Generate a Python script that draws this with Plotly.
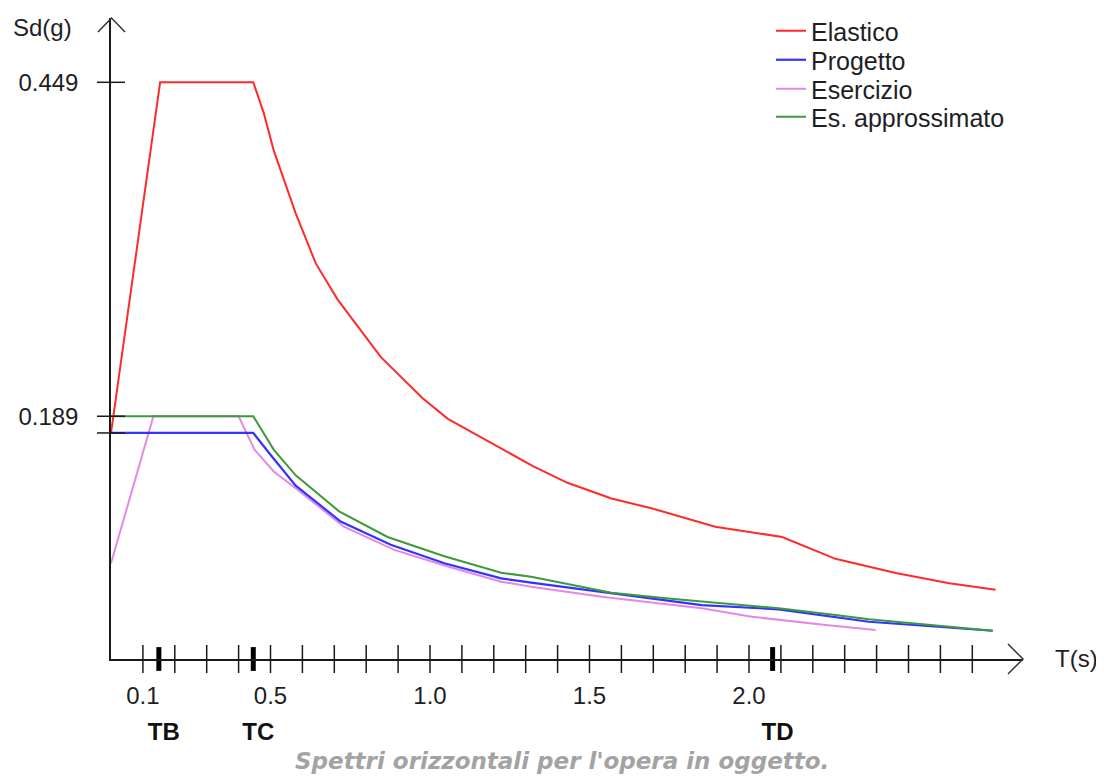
import plotly.graph_objects as go

# ---------------- data ----------------
T_el = [0, 0.154, 0.446, 0.479, 0.510, 0.531, 0.579, 0.642, 0.710, 0.846, 0.977,
        1.056, 1.223, 1.324, 1.433, 1.569, 1.700, 1.894, 2.104, 2.271, 2.460, 2.628, 2.773]
Sd_el = [0.176, 0.449, 0.449, 0.425, 0.396, 0.381, 0.347, 0.308, 0.280, 0.235, 0.203,
         0.187, 0.164, 0.150, 0.137, 0.125, 0.117, 0.103, 0.095, 0.078, 0.067, 0.059, 0.054]

T_pr = [0, 0.446, 0.500, 0.579, 0.720, 0.877, 1.045, 1.223, 1.317, 1.642, 1.852, 2.093, 2.376, 2.764]
Sd_pr = [0.176, 0.176, 0.159, 0.135, 0.107, 0.089, 0.0745, 0.0628, 0.0594, 0.0485, 0.042, 0.0387, 0.029, 0.022]

T_es = [0, 0.133, 0.400, 0.450, 0.510, 0.584, 0.730, 0.888, 1.056, 1.223, 1.317, 1.538, 1.852, 2.009, 2.240, 2.397]
Sd_es = [0.0745, 0.189, 0.189, 0.163, 0.146, 0.132, 0.103, 0.085, 0.072, 0.0602, 0.0563, 0.0485, 0.0395, 0.0329, 0.0265, 0.0226]

T_ap = [0, 0.446, 0.510, 0.579, 0.715, 0.867, 1.045, 1.223, 1.317, 1.569, 1.747, 2.093, 2.271, 2.376, 2.764]
Sd_ap = [0.189, 0.189, 0.163, 0.143, 0.115, 0.095, 0.080, 0.0672, 0.064, 0.0516, 0.0472, 0.0395, 0.0343, 0.031, 0.022]

x_minor_ticks = [0.1, 0.2, 0.3, 0.4, 0.5, 0.6, 0.7, 0.8, 0.9, 1.0, 1.1, 1.2, 1.3, 1.4,
                 1.5, 1.6, 1.7, 1.8, 1.9, 2.0, 2.1, 2.2, 2.3, 2.4, 2.5, 2.6, 2.7]
x_label_vals = [0.1, 0.5, 1.0, 1.5, 2.0]
x_label_text = ["0.1", "0.5", "1.0", "1.5", "2.0"]
period_vals = [0.150, 0.446, 2.074]
period_text = ["TB", "TC", "TD"]
y_tick_vals = [0.449, 0.189, 0.176]
y_label_vals = [0.449, 0.189]
y_label_text = ["0.449", "0.189"]

# ---------------- geometry (page has an 8px body margin) ----------------
OFF = 8
W, H = 1104, 780
PL, PR, PT, PB = 111, 1023, 18, 659          # plot area in screenshot pixels
PW, PH = PR - PL, PB - PT
L, TOP = PL - OFF, PT - OFF
R, B = W - L - PW, H - TOP - PH
X_MAX = PW / 319.0
Y_MAX = PH / 1284.4


def px(x):
    return (x - PL) / PW


def py(y):
    return (PB - y) / PH


FONT = "Liberation Sans, Arial, sans-serif"
TXT = "#1e1e24"

fig = go.Figure()

fig.add_trace(go.Scatter(x=T_el, y=Sd_el, mode="lines", name="Elastico", legend="legend",
                         line=dict(color="#ff2a2a", width=2), cliponaxis=False))
fig.add_trace(go.Scatter(x=T_es, y=Sd_es, mode="lines", name="Esercizio", legend="legend3",
                         line=dict(color="#e488e4", width=2), cliponaxis=False))
fig.add_trace(go.Scatter(x=T_pr, y=Sd_pr, mode="lines", name="Progetto", legend="legend2",
                         line=dict(color="#3333ff", width=2.2), cliponaxis=False))
fig.add_trace(go.Scatter(x=T_ap, y=Sd_ap, mode="lines", name="Es. approssimato", legend="legend4",
                         line=dict(color="#3c9a3c", width=2), cliponaxis=False))

# tick marks crossing the axes
fig.add_trace(go.Scatter(x=x_minor_ticks, y=[0] * len(x_minor_ticks), mode="markers",
                         marker=dict(symbol="line-ns", size=20, line=dict(color="#1a1a1a", width=1.5)),
                         showlegend=False, hoverinfo="skip", cliponaxis=False))
fig.add_trace(go.Scatter(x=period_vals, y=[0] * len(period_vals), mode="markers", xaxis="x2",
                         marker=dict(symbol="line-ns", size=17, line=dict(color="#000000", width=5)),
                         showlegend=False, hoverinfo="skip", cliponaxis=False))
fig.add_trace(go.Scatter(x=[0] * len(y_tick_vals), y=y_tick_vals, mode="markers",
                         marker=dict(symbol="line-ew", size=20, line=dict(color="#1a1a1a", width=1.5)),
                         showlegend=False, hoverinfo="skip", cliponaxis=False))

LEG_FONT = dict(family=FONT, size=25, color=TXT)
leg_centers = [31, 60, 89, 117]
legs = {}
for i, c in enumerate(leg_centers):
    key = "legend" if i == 0 else "legend%d" % (i + 1)
    legs[key] = dict(x=px(771), y=py(c), xanchor="left", yanchor="middle",
                     font=LEG_FONT, bgcolor="rgba(0,0,0,0)", itemwidth=30, borderwidth=0)

fig.update_layout(
    width=W, height=H,
    margin=dict(l=L, r=R, t=TOP, b=B, pad=0, autoexpand=False),
    plot_bgcolor="white", paper_bgcolor="white",
    font=dict(family=FONT, size=24, color=TXT),
    xaxis=dict(range=[0, X_MAX], showgrid=False, zeroline=False, showline=True,
               linecolor="#1a1a1a", linewidth=1.5, ticks="",
               tickvals=x_label_vals, ticktext=x_label_text,
               tickfont=dict(family=FONT, size=24, color=TXT), ticklabelstandoff=14),
    xaxis2=dict(range=[0, X_MAX], overlaying="x", anchor="y", side="bottom",
                showgrid=False, zeroline=False, showline=False, ticks="",
                tickvals=period_vals, ticktext=["<b>%s</b>" % t for t in period_text],
                tickfont=dict(family=FONT, size=24, color="#111111"),
                ticklabelstandoff=56, ticklabelshift=5),
    yaxis=dict(range=[0, Y_MAX], showgrid=False, zeroline=False, showline=True,
               linecolor="#1a1a1a", linewidth=1.5, ticks="",
               tickvals=y_label_vals, ticktext=y_label_text,
               tickfont=dict(family=FONT, size=24, color=TXT), ticklabelstandoff=26),
    showlegend=True,
    **legs,
)

# axis arrow heads
fig.add_shape(type="path", xref="paper", yref="paper",
              path="M %f %f L %f %f L %f %f" % (px(1008), py(644), px(1023), py(659), px(1008), py(674)),
              line=dict(color="#333333", width=1.5))
fig.add_shape(type="path", xref="paper", yref="paper",
              path="M %f %f L %f %f L %f %f" % (px(98), py(32), px(111.5), py(18), px(125), py(32)),
              line=dict(color="#333333", width=1.5))

fig.add_annotation(text="Sd(g)", xref="paper", yref="paper", x=px(42), y=py(27),
                   xanchor="center", yanchor="middle",
                   showarrow=False, font=dict(family=FONT, size=24, color=TXT))
fig.add_annotation(text="T(s)", xref="paper", yref="paper", x=px(1076), y=py(658),
                   xanchor="center", yanchor="middle",
                   showarrow=False, font=dict(family=FONT, size=24, color=TXT))
fig.add_annotation(text="<b><i>Spettri orizzontali per l'opera in oggetto.</i></b>",
                   xref="paper", yref="paper", x=px(562), y=py(761), showarrow=False,
                   xanchor="center", yanchor="middle",
                   font=dict(family="DejaVu Sans, Verdana, sans-serif", size=23, color="#a3a3a3"))

fig.write_html("out.html")
